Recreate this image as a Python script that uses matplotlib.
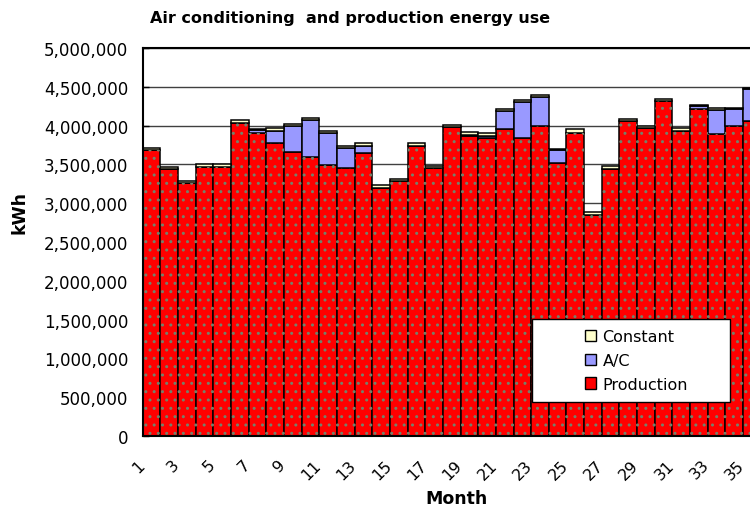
import numpy as np
import matplotlib
matplotlib.use("Agg")
import matplotlib.pyplot as plt
import matplotlib.transforms as mtransforms
from matplotlib.patches import Patch, Rectangle
from matplotlib.ticker import FuncFormatter

plt.rcParams['font.family'] = ['DejaVu Sans']

## data (kWh), months 1..35 visible
months = np.arange(1, 36)
production = [3680000, 3440000, 3260000, 3470000, 3470000, 4030000, 3900000, 3770000, 3660000, 3590000,
              3490000, 3460000, 3650000, 3200000, 3290000, 3740000, 3450000, 3980000, 3860000, 3840000,
              3960000, 3840000, 4000000, 3520000, 3910000, 2850000, 3440000, 4060000, 3970000, 4320000,
              3930000, 4210000, 3890000, 3990000, 4060000]
ac = [0, 0, 0, 0, 0, 0, 40000, 160000, 330000, 480000,
      420000, 250000, 90000, 0, 0, 0, 0, 0, 20000, 30000,
      230000, 470000, 370000, 160000, 0, 0, 0, 0, 0, 0,
      0, 40000, 310000, 220000, 410000]
constant = [30000, 30000, 20000, 30000, 30000, 40000, 20000, 40000, 30000, 30000,
            20000, 30000, 30000, 40000, 20000, 40000, 30000, 30000, 40000, 30000,
            20000, 20000, 20000, 20000, 40000, 40000, 40000, 30000, 30000, 20000,
            40000, 20000, 30000, 20000, 20000]
series_names = ['Constant', 'A/C', 'Production']
colors = {'Production': '#ff0000', 'A/C': '#9999ff', 'Constant': '#ffffcc'}

fig = plt.figure(figsize=(7.5, 5.1), dpi=100)
ax = fig.add_axes([142.7 / 750, 73 / 510, 618 / 750, 388 / 510])

prod = np.array(production)
acv = np.array(ac)
ax.bar(months, prod, width=1.0, color=colors['Production'], edgecolor='black', linewidth=1.1, zorder=2)
ax.bar(months, prod, width=1.0, facecolor='none', edgecolor='#75806a', linewidth=0, hatch='..', zorder=2.1)
ax.bar(months, acv, bottom=prod, width=1.0, color=colors['A/C'], edgecolor='black', linewidth=1.1, zorder=2)
ax.bar(months, constant, bottom=prod + acv, width=1.0, color=colors['Constant'], edgecolor='black',
       linewidth=1.1, zorder=2)

ax.set_xlim(0.5, 35.5)
ax.set_ylim(0, 5000000)
ax.set_yticks(np.arange(0, 5000001, 500000))
ax.yaxis.set_major_formatter(FuncFormatter(lambda v, p: '{:,.0f}'.format(v)))
ax.tick_params(axis='y', direction='in', length=4, width=1, pad=10.5, labelsize=12, colors='black')
ax.set_xticks(months[::2])
ax.set_xticklabels([str(m) for m in months[::2]], rotation=45, ha='right', rotation_mode='anchor')
ax.tick_params(axis='x', length=0, pad=15, labelsize=11.5)
## Excel puts the rotated labels left of the category centre
shift = mtransforms.ScaledTranslation(-15 / 100, 0, fig.dpi_scale_trans)
for lab in ax.get_xticklabels():
    lab.set_transform(lab.get_transform() + shift)
ax.yaxis.grid(True, color='#404040', linewidth=1)
ax.set_axisbelow(True)
for s in ax.spines.values():
    s.set_color('black')
    s.set_linewidth(1.5)

fig.text(350 / 750, 1 - 19 / 510, 'Air conditioning  and production energy use',
         ha='center', va='center', fontsize=11.5, fontweight='bold')
fig.text(457 / 750, 1 - 499 / 510, 'Month', ha='center', va='center', fontsize=12.5, fontweight='bold')
fig.text(20 / 750, 1 - 213 / 510, 'kWh', ha='center', va='center', rotation=90,
         fontsize=12.5, fontweight='bold')

## legend box (Excel style, wider than its content)
fig.add_artist(Rectangle((532 / 750, 1 - 403 / 510), 198 / 750, 83 / 510, transform=fig.transFigure,
                         facecolor='white', edgecolor='black', linewidth=1, zorder=4))
handles = [Patch(facecolor=colors[n], edgecolor='black', linewidth=1) for n in series_names]
fig.legend(handles, series_names, loc='upper left', bbox_to_anchor=(577 / 750, 1 - 322 / 510),
           frameon=False, fontsize=11.5, handlelength=0.7, handleheight=0.7, handletextpad=0.4,
           borderpad=0, labelspacing=0.55).set_zorder(5)

fig.savefig('out.png', dpi=100)
